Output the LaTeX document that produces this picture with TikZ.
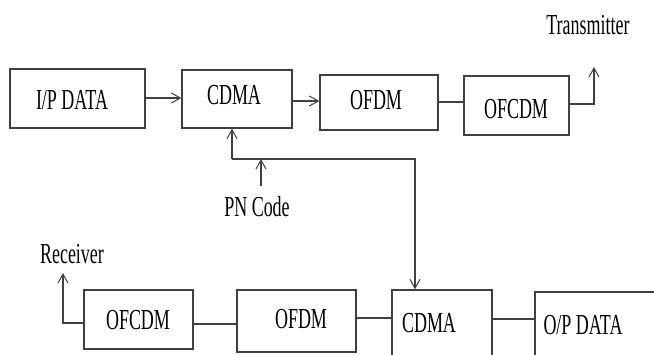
\documentclass[tikz,border=0pt]{standalone}
\usepackage{fontspec}
\setmainfont{Liberation Serif}[FakeStretch=0.62]
\usetikzlibrary{arrows.meta}
\begin{document}
\begin{tikzpicture}[x=1pt,y=-1pt,
  line width=1.3pt, draw=black!75,
  blk/.style={draw=black!75, line width=1.3pt, rectangle, inner sep=0pt},
  lbl/.style={inner sep=0pt, font=\fontsize{29}{31}\selectfont},
  arr/.style={-{Straight Barb[length=9pt,width=10pt,line width=1pt]}}]
\clip (0,0) rectangle (654,354);
\fill[white] (0,0) rectangle (654,354);
% top row boxes
\node[blk, minimum width=135pt, minimum height=59pt] (ip) at (77.5,98.5) {};
\node[blk, minimum width=110pt, minimum height=58pt] (cdmaA) at (237,99) {};
\node[blk, minimum width=118pt, minimum height=55pt] (ofdmA) at (379,102.5) {};
\node[blk, minimum width=105pt, minimum height=59pt] (ofcdmA) at (516.5,105.5) {};
% bottom row boxes
\node[blk, minimum width=109pt, minimum height=59pt] (ofcdmB) at (138.5,319.5) {};
\node[blk, minimum width=119pt, minimum height=62pt] (ofdmB) at (296.5,321) {};
\node[blk, minimum width=100pt, minimum height=70pt] (cdmaB) at (442,325) {};
\node[blk, minimum width=140pt, minimum height=78pt] (op) at (605,331) {};
% box texts
\node[lbl] (tip) at (72,100) {I/P DATA};
\node[lbl] (tcdmaA) at (234,95) {CDMA};
\node[lbl] (tofdmA) at (376,100) {OFDM};
\node[lbl] (tofcdmA) at (516,109) {OFCDM};
\node[lbl] (tofcdmB) at (138,320) {OFCDM};
\node[lbl] (tofdmB) at (301,319) {OFDM};
\node[lbl] (tcdmaB) at (429,323) {CDMA};
\node[lbl] (top) at (583,325) {O/P DATA};
% free labels
\node[lbl] (tx) at (588,25) {Transmitter};
\node[lbl] (pn) at (257,207) {PN Code};
\node[lbl] (rx) at (72,254) {Receiver};
% coordinates
\coordinate (txend) at (594,67);
\coordinate (txbend) at (594,104);
\coordinate (pnstart) at (261,186);
\coordinate (pnjoin) at (261,159);
\coordinate (busL) at (232,159);
\coordinate (busR) at (415,159);
\coordinate (rxbend) at (63,323);
\coordinate (rxend) at (63,273);
% connectors top
\draw[arr] (ip.east |- 0,98) -- (cdmaA.west |- 0,98);
\draw[arr] (cdmaA.east |- 0,101) -- (ofdmA.west |- 0,101);
\draw (ofdmA.east |- 0,102) -- (ofcdmA.west |- 0,102);
\draw[arr] (ofcdmA.east |- txbend) -- (txbend) -- (txend);
% PN code
\draw[arr] (pnstart) -- (pnjoin);
\draw[arr] (busL) -- (busL |- cdmaA.south);
\draw[arr] (busL) -- (busR) -- (busR |- cdmaB.north);
% connectors bottom
\draw (ofcdmB.east |- 0,324) -- (ofdmB.west |- 0,324);
\draw (ofdmB.east |- 0,318) -- (cdmaB.west |- 0,318);
\draw (cdmaB.east |- 0,319) -- (op.west |- 0,319);
\draw[arr] (ofcdmB.west |- rxbend) -- (rxbend) -- (rxend);
\end{tikzpicture}
\end{document}
